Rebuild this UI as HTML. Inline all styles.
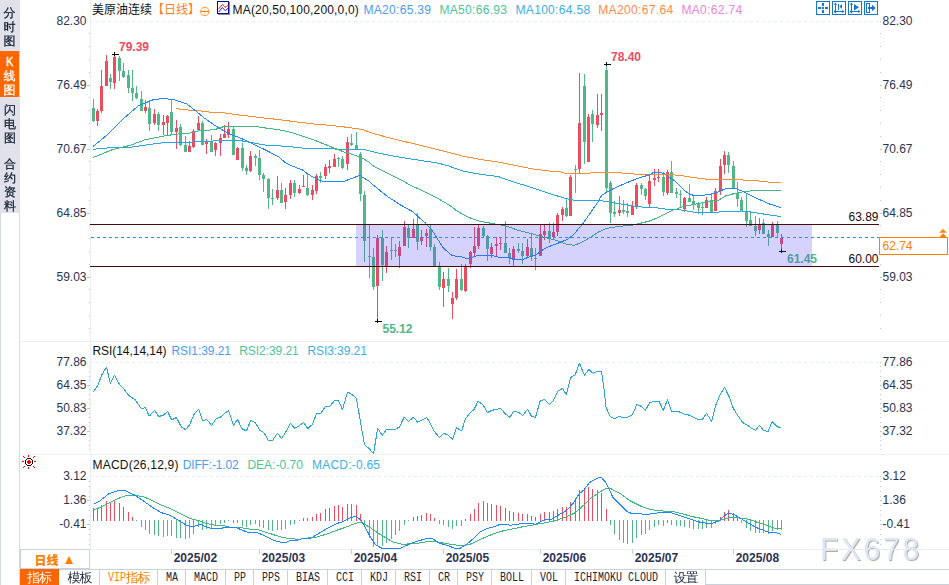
<!DOCTYPE html>
<html lang="zh"><head><meta charset="utf-8"><title>美原油连续 日线</title>
<style>
html,body{margin:0;padding:0;background:#fff;}
body{width:949px;height:585px;position:relative;overflow:hidden;font-family:"Liberation Sans","Noto Sans CJK SC",sans-serif;}
.chart{position:absolute;left:0;top:0;}
.chart text{font-family:"Liberation Sans","Noto Sans CJK SC",sans-serif;font-size:12px;}
.chart text.b{font-weight:bold;}
.chart text.h{font-size:12px;}
.chart text.cj{font-size:12px;}
.chart text.tl{font-family:"Liberation Mono",monospace;font-size:13px;}
.chart text.tc{font-family:"WenQuanYi Zen Hei","Noto Sans CJK SC",sans-serif;font-size:13px;letter-spacing:-1px;}
.side{position:absolute;left:0;top:0;width:20px;height:585px;box-sizing:border-box;border-left:1px solid #d3dbe3;border-right:1px solid #d3dbe3;background:linear-gradient(#dbe8f6 0,#dbe8f6 213px,#fff 213px);}
.side div{position:absolute;left:-1px;width:20px;text-align:center;font-family:"Liberation Serif","WenQuanYi Zen Hei",serif;font-size:12px;line-height:14px;color:#1a2436;background:#e0e1ea;-webkit-text-stroke:0.3px currentColor;}
.side .k{background:#ff6600;color:#fff;width:19px;}
.tabs{position:absolute;left:20px;top:569px;height:16px;width:929px;border-top:1px solid #c9d2dc;box-sizing:border-box;}
.tabs span{position:absolute;top:0;height:15px;box-sizing:border-box;border-right:1px solid #c9d2dc;font-family:"Liberation Mono","WenQuanYi Zen Hei",monospace;font-size:12px;line-height:15px;text-align:center;color:#111;white-space:nowrap;letter-spacing:-1.2px;}
.tabs span.cj{letter-spacing:0;}
.tabs span.on{background:#ff6600;color:#fff;top:-1px;height:16px;line-height:16px;border-right:none;}
.tabs span.vip{color:#ff7f00;}
.period{position:absolute;left:20px;top:549px;width:70px;height:20px;box-sizing:border-box;border:1px solid #c9d2dc;background:#fff;font-size:12px;font-weight:bold;color:#ff7f00;line-height:19px;}
.period b{position:absolute;left:13.5px;top:2px;font-family:"Liberation Sans","Noto Sans CJK SC",sans-serif;}
.period i{position:absolute;left:43.5px;top:5.5px;width:0;height:0;border-left:4.5px solid transparent;border-right:4.5px solid transparent;border-bottom:8.5px solid #ff7f00;}
.scroll{position:absolute;left:706px;top:569px;width:243px;height:16px;box-sizing:border-box;border:1px solid #c9d2dc;border-right:none;border-left:none;background:#fff;}
</style></head><body>
<svg class="chart" width="949" height="585" viewBox="0 0 949 585">
<g shape-rendering="crispEdges">
<rect x="90" y="0" width="1" height="549" fill="#ecf0f5"/>
<rect x="20" y="341" width="929" height="1" fill="#ecf0f5"/>
<rect x="20" y="454" width="929" height="1" fill="#ecf0f5"/>
<rect x="90" y="549" width="859" height="1" fill="#ecf0f5"/>
<line x1="90" y1="21.5" x2="880" y2="21.5" stroke="#e5ecf2" stroke-width="1" stroke-dasharray="3 3"/>
<line x1="90" y1="362.5" x2="880" y2="362.5" stroke="#e5ecf2" stroke-width="1" stroke-dasharray="3 3"/>
<line x1="90" y1="476.5" x2="880" y2="476.5" stroke="#e5ecf2" stroke-width="1" stroke-dasharray="3 3"/>
<rect x="880" y="21" width="1" height="1" fill="#bcc4ce"/>
<rect x="89" y="33" width="1" height="1" fill="#bcc4ce"/>
<rect x="880" y="33" width="1" height="1" fill="#bcc4ce"/>
<rect x="89" y="46" width="1" height="1" fill="#bcc4ce"/>
<rect x="880" y="46" width="1" height="1" fill="#bcc4ce"/>
<rect x="89" y="59" width="1" height="1" fill="#bcc4ce"/>
<rect x="880" y="59" width="1" height="1" fill="#bcc4ce"/>
<rect x="89" y="72" width="1" height="1" fill="#bcc4ce"/>
<rect x="880" y="72" width="1" height="1" fill="#bcc4ce"/>
<rect x="87" y="85" width="3" height="1" fill="#bcc4ce"/>
<rect x="880" y="85" width="2" height="1" fill="#bcc4ce"/>
<rect x="89" y="97" width="1" height="1" fill="#bcc4ce"/>
<rect x="880" y="97" width="1" height="1" fill="#bcc4ce"/>
<rect x="89" y="110" width="1" height="1" fill="#bcc4ce"/>
<rect x="880" y="110" width="1" height="1" fill="#bcc4ce"/>
<rect x="89" y="123" width="1" height="1" fill="#bcc4ce"/>
<rect x="880" y="123" width="1" height="1" fill="#bcc4ce"/>
<rect x="89" y="136" width="1" height="1" fill="#bcc4ce"/>
<rect x="880" y="136" width="1" height="1" fill="#bcc4ce"/>
<rect x="87" y="149" width="3" height="1" fill="#bcc4ce"/>
<rect x="880" y="149" width="2" height="1" fill="#bcc4ce"/>
<rect x="89" y="161" width="1" height="1" fill="#bcc4ce"/>
<rect x="880" y="161" width="1" height="1" fill="#bcc4ce"/>
<rect x="89" y="174" width="1" height="1" fill="#bcc4ce"/>
<rect x="880" y="174" width="1" height="1" fill="#bcc4ce"/>
<rect x="89" y="187" width="1" height="1" fill="#bcc4ce"/>
<rect x="880" y="187" width="1" height="1" fill="#bcc4ce"/>
<rect x="89" y="200" width="1" height="1" fill="#bcc4ce"/>
<rect x="880" y="200" width="1" height="1" fill="#bcc4ce"/>
<rect x="87" y="213" width="3" height="1" fill="#bcc4ce"/>
<rect x="880" y="213" width="2" height="1" fill="#bcc4ce"/>
<rect x="89" y="225" width="1" height="1" fill="#bcc4ce"/>
<rect x="880" y="225" width="1" height="1" fill="#bcc4ce"/>
<rect x="89" y="238" width="1" height="1" fill="#bcc4ce"/>
<rect x="880" y="238" width="1" height="1" fill="#bcc4ce"/>
<rect x="89" y="251" width="1" height="1" fill="#bcc4ce"/>
<rect x="880" y="251" width="1" height="1" fill="#bcc4ce"/>
<rect x="89" y="264" width="1" height="1" fill="#bcc4ce"/>
<rect x="880" y="264" width="1" height="1" fill="#bcc4ce"/>
<rect x="87" y="277" width="3" height="1" fill="#bcc4ce"/>
<rect x="880" y="277" width="2" height="1" fill="#bcc4ce"/>
<rect x="89" y="289" width="1" height="1" fill="#bcc4ce"/>
<rect x="880" y="289" width="1" height="1" fill="#bcc4ce"/>
<rect x="89" y="302" width="1" height="1" fill="#bcc4ce"/>
<rect x="880" y="302" width="1" height="1" fill="#bcc4ce"/>
<rect x="89" y="315" width="1" height="1" fill="#bcc4ce"/>
<rect x="880" y="315" width="1" height="1" fill="#bcc4ce"/>
<rect x="89" y="328" width="1" height="1" fill="#bcc4ce"/>
<rect x="880" y="328" width="1" height="1" fill="#bcc4ce"/>
<rect x="880" y="362" width="1" height="1" fill="#bcc4ce"/>
<rect x="89" y="366" width="1" height="1" fill="#bcc4ce"/>
<rect x="880" y="366" width="1" height="1" fill="#bcc4ce"/>
<rect x="89" y="371" width="1" height="1" fill="#bcc4ce"/>
<rect x="880" y="371" width="1" height="1" fill="#bcc4ce"/>
<rect x="89" y="376" width="1" height="1" fill="#bcc4ce"/>
<rect x="880" y="376" width="1" height="1" fill="#bcc4ce"/>
<rect x="89" y="380" width="1" height="1" fill="#bcc4ce"/>
<rect x="880" y="380" width="1" height="1" fill="#bcc4ce"/>
<rect x="87" y="385" width="3" height="1" fill="#bcc4ce"/>
<rect x="880" y="385" width="2" height="1" fill="#bcc4ce"/>
<rect x="89" y="389" width="1" height="1" fill="#bcc4ce"/>
<rect x="880" y="389" width="1" height="1" fill="#bcc4ce"/>
<rect x="89" y="394" width="1" height="1" fill="#bcc4ce"/>
<rect x="880" y="394" width="1" height="1" fill="#bcc4ce"/>
<rect x="89" y="399" width="1" height="1" fill="#bcc4ce"/>
<rect x="880" y="399" width="1" height="1" fill="#bcc4ce"/>
<rect x="89" y="403" width="1" height="1" fill="#bcc4ce"/>
<rect x="880" y="403" width="1" height="1" fill="#bcc4ce"/>
<rect x="87" y="408" width="3" height="1" fill="#bcc4ce"/>
<rect x="880" y="408" width="2" height="1" fill="#bcc4ce"/>
<rect x="89" y="413" width="1" height="1" fill="#bcc4ce"/>
<rect x="880" y="413" width="1" height="1" fill="#bcc4ce"/>
<rect x="89" y="417" width="1" height="1" fill="#bcc4ce"/>
<rect x="880" y="417" width="1" height="1" fill="#bcc4ce"/>
<rect x="89" y="422" width="1" height="1" fill="#bcc4ce"/>
<rect x="880" y="422" width="1" height="1" fill="#bcc4ce"/>
<rect x="89" y="426" width="1" height="1" fill="#bcc4ce"/>
<rect x="880" y="426" width="1" height="1" fill="#bcc4ce"/>
<rect x="87" y="431" width="3" height="1" fill="#bcc4ce"/>
<rect x="880" y="431" width="2" height="1" fill="#bcc4ce"/>
<rect x="89" y="436" width="1" height="1" fill="#bcc4ce"/>
<rect x="880" y="436" width="1" height="1" fill="#bcc4ce"/>
<rect x="89" y="440" width="1" height="1" fill="#bcc4ce"/>
<rect x="880" y="440" width="1" height="1" fill="#bcc4ce"/>
<rect x="89" y="445" width="1" height="1" fill="#bcc4ce"/>
<rect x="880" y="445" width="1" height="1" fill="#bcc4ce"/>
<rect x="89" y="449" width="1" height="1" fill="#bcc4ce"/>
<rect x="880" y="449" width="1" height="1" fill="#bcc4ce"/>
<rect x="880" y="476" width="1" height="1" fill="#bcc4ce"/>
<rect x="89" y="481" width="1" height="1" fill="#bcc4ce"/>
<rect x="880" y="481" width="1" height="1" fill="#bcc4ce"/>
<rect x="89" y="486" width="1" height="1" fill="#bcc4ce"/>
<rect x="880" y="486" width="1" height="1" fill="#bcc4ce"/>
<rect x="89" y="491" width="1" height="1" fill="#bcc4ce"/>
<rect x="880" y="491" width="1" height="1" fill="#bcc4ce"/>
<rect x="89" y="496" width="1" height="1" fill="#bcc4ce"/>
<rect x="880" y="496" width="1" height="1" fill="#bcc4ce"/>
<rect x="87" y="500" width="3" height="1" fill="#bcc4ce"/>
<rect x="880" y="500" width="2" height="1" fill="#bcc4ce"/>
<rect x="89" y="505" width="1" height="1" fill="#bcc4ce"/>
<rect x="880" y="505" width="1" height="1" fill="#bcc4ce"/>
<rect x="89" y="510" width="1" height="1" fill="#bcc4ce"/>
<rect x="880" y="510" width="1" height="1" fill="#bcc4ce"/>
<rect x="89" y="515" width="1" height="1" fill="#bcc4ce"/>
<rect x="880" y="515" width="1" height="1" fill="#bcc4ce"/>
<rect x="89" y="520" width="1" height="1" fill="#bcc4ce"/>
<rect x="880" y="520" width="1" height="1" fill="#bcc4ce"/>
<rect x="87" y="524" width="3" height="1" fill="#bcc4ce"/>
<rect x="880" y="524" width="2" height="1" fill="#bcc4ce"/>
<rect x="89" y="529" width="1" height="1" fill="#bcc4ce"/>
<rect x="880" y="529" width="1" height="1" fill="#bcc4ce"/>
<rect x="89" y="534" width="1" height="1" fill="#bcc4ce"/>
<rect x="880" y="534" width="1" height="1" fill="#bcc4ce"/>
<rect x="89" y="539" width="1" height="1" fill="#bcc4ce"/>
<rect x="880" y="539" width="1" height="1" fill="#bcc4ce"/>
<rect x="89" y="544" width="1" height="1" fill="#bcc4ce"/>
<rect x="880" y="544" width="1" height="1" fill="#bcc4ce"/>
</g>
<g shape-rendering="crispEdges">
<rect x="93" y="99" width="1" height="23" fill="#52b786"/>
<rect x="92" y="108" width="3" height="13" fill="#52b786"/>
<rect x="97" y="109" width="1" height="17" fill="#ec4c5f"/>
<rect x="96" y="111" width="3" height="10" fill="#ec4c5f"/>
<rect x="101" y="70" width="1" height="43" fill="#ec4c5f"/>
<rect x="100" y="86" width="3" height="25" fill="#ec4c5f"/>
<rect x="106" y="55" width="1" height="31" fill="#ec4c5f"/>
<rect x="105" y="61" width="3" height="25" fill="#ec4c5f"/>
<rect x="110" y="74" width="1" height="15" fill="#52b786"/>
<rect x="109" y="78" width="3" height="4" fill="#52b786"/>
<rect x="114" y="56" width="1" height="33" fill="#ec4c5f"/>
<rect x="113" y="57" width="3" height="26" fill="#ec4c5f"/>
<rect x="119" y="56" width="1" height="25" fill="#52b786"/>
<rect x="118" y="58" width="3" height="13" fill="#52b786"/>
<rect x="123" y="63" width="1" height="15" fill="#52b786"/>
<rect x="122" y="71" width="3" height="6" fill="#52b786"/>
<rect x="128" y="70" width="1" height="23" fill="#52b786"/>
<rect x="127" y="75" width="3" height="13" fill="#52b786"/>
<rect x="132" y="70" width="1" height="31" fill="#52b786"/>
<rect x="131" y="88" width="3" height="5" fill="#52b786"/>
<rect x="136" y="86" width="1" height="13" fill="#52b786"/>
<rect x="135" y="93" width="3" height="5" fill="#52b786"/>
<rect x="141" y="91" width="1" height="20" fill="#52b786"/>
<rect x="140" y="99" width="3" height="12" fill="#52b786"/>
<rect x="145" y="100" width="1" height="13" fill="#ec4c5f"/>
<rect x="144" y="107" width="3" height="4" fill="#ec4c5f"/>
<rect x="149" y="100" width="1" height="31" fill="#52b786"/>
<rect x="148" y="108" width="3" height="16" fill="#52b786"/>
<rect x="154" y="109" width="1" height="16" fill="#ec4c5f"/>
<rect x="153" y="114" width="3" height="9" fill="#ec4c5f"/>
<rect x="158" y="112" width="1" height="19" fill="#52b786"/>
<rect x="157" y="114" width="3" height="11" fill="#52b786"/>
<rect x="163" y="115" width="1" height="20" fill="#ec4c5f"/>
<rect x="162" y="122" width="3" height="3" fill="#ec4c5f"/>
<rect x="167" y="115" width="1" height="20" fill="#ec4c5f"/>
<rect x="166" y="116" width="3" height="7" fill="#ec4c5f"/>
<rect x="171" y="99" width="1" height="35" fill="#52b786"/>
<rect x="170" y="112" width="3" height="20" fill="#52b786"/>
<rect x="176" y="120" width="1" height="29" fill="#ec4c5f"/>
<rect x="175" y="128" width="3" height="4" fill="#ec4c5f"/>
<rect x="180" y="124" width="1" height="22" fill="#52b786"/>
<rect x="179" y="127" width="3" height="18" fill="#52b786"/>
<rect x="185" y="136" width="1" height="16" fill="#52b786"/>
<rect x="184" y="145" width="3" height="7" fill="#52b786"/>
<rect x="189" y="141" width="1" height="11" fill="#ec4c5f"/>
<rect x="188" y="146" width="3" height="6" fill="#ec4c5f"/>
<rect x="193" y="129" width="1" height="19" fill="#ec4c5f"/>
<rect x="192" y="131" width="3" height="16" fill="#ec4c5f"/>
<rect x="198" y="116" width="1" height="15" fill="#ec4c5f"/>
<rect x="197" y="123" width="3" height="7" fill="#ec4c5f"/>
<rect x="202" y="121" width="1" height="24" fill="#52b786"/>
<rect x="201" y="123" width="3" height="22" fill="#52b786"/>
<rect x="206" y="139" width="1" height="15" fill="#ec4c5f"/>
<rect x="205" y="142" width="3" height="2" fill="#ec4c5f"/>
<rect x="211" y="135" width="1" height="17" fill="#52b786"/>
<rect x="210" y="141" width="3" height="11" fill="#52b786"/>
<rect x="215" y="142" width="1" height="14" fill="#ec4c5f"/>
<rect x="214" y="143" width="3" height="7" fill="#ec4c5f"/>
<rect x="220" y="134" width="1" height="22" fill="#ec4c5f"/>
<rect x="219" y="138" width="3" height="5" fill="#ec4c5f"/>
<rect x="224" y="125" width="1" height="13" fill="#ec4c5f"/>
<rect x="223" y="134" width="3" height="4" fill="#ec4c5f"/>
<rect x="228" y="122" width="1" height="16" fill="#ec4c5f"/>
<rect x="227" y="129" width="3" height="6" fill="#ec4c5f"/>
<rect x="233" y="126" width="1" height="29" fill="#52b786"/>
<rect x="232" y="129" width="3" height="26" fill="#52b786"/>
<rect x="237" y="147" width="1" height="13" fill="#ec4c5f"/>
<rect x="236" y="148" width="3" height="12" fill="#ec4c5f"/>
<rect x="242" y="143" width="1" height="28" fill="#52b786"/>
<rect x="241" y="148" width="3" height="20" fill="#52b786"/>
<rect x="246" y="165" width="1" height="10" fill="#52b786"/>
<rect x="245" y="168" width="3" height="3" fill="#52b786"/>
<rect x="250" y="151" width="1" height="21" fill="#ec4c5f"/>
<rect x="249" y="156" width="3" height="15" fill="#ec4c5f"/>
<rect x="255" y="154" width="1" height="12" fill="#52b786"/>
<rect x="254" y="156" width="3" height="2" fill="#52b786"/>
<rect x="259" y="150" width="1" height="30" fill="#52b786"/>
<rect x="258" y="158" width="3" height="17" fill="#52b786"/>
<rect x="263" y="173" width="1" height="19" fill="#52b786"/>
<rect x="262" y="175" width="3" height="4" fill="#52b786"/>
<rect x="268" y="178" width="1" height="31" fill="#52b786"/>
<rect x="267" y="179" width="3" height="19" fill="#52b786"/>
<rect x="272" y="189" width="1" height="16" fill="#52b786"/>
<rect x="271" y="198" width="3" height="1" fill="#52b786"/>
<rect x="277" y="176" width="1" height="24" fill="#ec4c5f"/>
<rect x="276" y="190" width="3" height="8" fill="#ec4c5f"/>
<rect x="281" y="183" width="1" height="20" fill="#52b786"/>
<rect x="280" y="190" width="3" height="13" fill="#52b786"/>
<rect x="285" y="188" width="1" height="21" fill="#ec4c5f"/>
<rect x="284" y="195" width="3" height="7" fill="#ec4c5f"/>
<rect x="290" y="180" width="1" height="19" fill="#ec4c5f"/>
<rect x="289" y="183" width="3" height="12" fill="#ec4c5f"/>
<rect x="294" y="180" width="1" height="17" fill="#52b786"/>
<rect x="293" y="183" width="3" height="10" fill="#52b786"/>
<rect x="299" y="185" width="1" height="9" fill="#ec4c5f"/>
<rect x="298" y="189" width="3" height="4" fill="#ec4c5f"/>
<rect x="303" y="175" width="1" height="12" fill="#ec4c5f"/>
<rect x="302" y="186" width="3" height="1" fill="#ec4c5f"/>
<rect x="307" y="173" width="1" height="23" fill="#52b786"/>
<rect x="306" y="188" width="3" height="7" fill="#52b786"/>
<rect x="312" y="185" width="1" height="15" fill="#ec4c5f"/>
<rect x="311" y="190" width="3" height="5" fill="#ec4c5f"/>
<rect x="316" y="174" width="1" height="20" fill="#ec4c5f"/>
<rect x="315" y="176" width="3" height="15" fill="#ec4c5f"/>
<rect x="320" y="172" width="1" height="11" fill="#52b786"/>
<rect x="319" y="176" width="3" height="2" fill="#52b786"/>
<rect x="325" y="164" width="1" height="15" fill="#ec4c5f"/>
<rect x="324" y="167" width="3" height="9" fill="#ec4c5f"/>
<rect x="329" y="160" width="1" height="13" fill="#ec4c5f"/>
<rect x="328" y="166" width="3" height="2" fill="#ec4c5f"/>
<rect x="334" y="154" width="1" height="13" fill="#ec4c5f"/>
<rect x="333" y="159" width="3" height="8" fill="#ec4c5f"/>
<rect x="338" y="157" width="1" height="10" fill="#52b786"/>
<rect x="337" y="158" width="3" height="1" fill="#52b786"/>
<rect x="342" y="156" width="1" height="13" fill="#52b786"/>
<rect x="341" y="159" width="3" height="9" fill="#52b786"/>
<rect x="347" y="137" width="1" height="33" fill="#ec4c5f"/>
<rect x="346" y="142" width="3" height="22" fill="#ec4c5f"/>
<rect x="351" y="134" width="1" height="12" fill="#52b786"/>
<rect x="350" y="143" width="3" height="2" fill="#52b786"/>
<rect x="356" y="132" width="1" height="17" fill="#52b786"/>
<rect x="355" y="145" width="3" height="4" fill="#52b786"/>
<rect x="360" y="152" width="1" height="49" fill="#52b786"/>
<rect x="359" y="154" width="3" height="40" fill="#52b786"/>
<rect x="364" y="191" width="1" height="71" fill="#52b786"/>
<rect x="363" y="195" width="3" height="46" fill="#52b786"/>
<rect x="369" y="225" width="1" height="53" fill="#52b786"/>
<rect x="368" y="256" width="3" height="1" fill="#52b786"/>
<rect x="373" y="248" width="1" height="42" fill="#52b786"/>
<rect x="372" y="257" width="3" height="30" fill="#52b786"/>
<rect x="377" y="235" width="1" height="84" fill="#ec4c5f"/>
<rect x="376" y="238" width="3" height="48" fill="#ec4c5f"/>
<rect x="382" y="230" width="1" height="51" fill="#52b786"/>
<rect x="381" y="238" width="3" height="27" fill="#52b786"/>
<rect x="386" y="246" width="1" height="27" fill="#ec4c5f"/>
<rect x="385" y="252" width="3" height="14" fill="#ec4c5f"/>
<rect x="391" y="238" width="1" height="22" fill="#52b786"/>
<rect x="390" y="250" width="3" height="1" fill="#52b786"/>
<rect x="395" y="244" width="1" height="13" fill="#52b786"/>
<rect x="394" y="250" width="3" height="1" fill="#52b786"/>
<rect x="399" y="241" width="1" height="27" fill="#ec4c5f"/>
<rect x="398" y="247" width="3" height="9" fill="#ec4c5f"/>
<rect x="404" y="221" width="1" height="25" fill="#ec4c5f"/>
<rect x="403" y="227" width="3" height="19" fill="#ec4c5f"/>
<rect x="408" y="225" width="1" height="23" fill="#52b786"/>
<rect x="407" y="228" width="3" height="10" fill="#52b786"/>
<rect x="413" y="219" width="1" height="19" fill="#ec4c5f"/>
<rect x="412" y="229" width="3" height="9" fill="#ec4c5f"/>
<rect x="417" y="213" width="1" height="37" fill="#52b786"/>
<rect x="416" y="225" width="3" height="17" fill="#52b786"/>
<rect x="421" y="230" width="1" height="15" fill="#ec4c5f"/>
<rect x="420" y="237" width="3" height="4" fill="#ec4c5f"/>
<rect x="426" y="229" width="1" height="18" fill="#ec4c5f"/>
<rect x="425" y="233" width="3" height="3" fill="#ec4c5f"/>
<rect x="430" y="225" width="1" height="26" fill="#52b786"/>
<rect x="429" y="229" width="3" height="18" fill="#52b786"/>
<rect x="434" y="244" width="1" height="22" fill="#52b786"/>
<rect x="433" y="247" width="3" height="19" fill="#52b786"/>
<rect x="439" y="262" width="1" height="28" fill="#52b786"/>
<rect x="438" y="267" width="3" height="20" fill="#52b786"/>
<rect x="443" y="272" width="1" height="35" fill="#ec4c5f"/>
<rect x="442" y="279" width="3" height="9" fill="#ec4c5f"/>
<rect x="448" y="268" width="1" height="24" fill="#52b786"/>
<rect x="447" y="279" width="3" height="7" fill="#52b786"/>
<rect x="452" y="292" width="1" height="27" fill="#ec4c5f"/>
<rect x="451" y="298" width="3" height="6" fill="#ec4c5f"/>
<rect x="456" y="269" width="1" height="31" fill="#ec4c5f"/>
<rect x="455" y="279" width="3" height="19" fill="#ec4c5f"/>
<rect x="461" y="264" width="1" height="27" fill="#52b786"/>
<rect x="460" y="279" width="3" height="11" fill="#52b786"/>
<rect x="465" y="264" width="1" height="28" fill="#ec4c5f"/>
<rect x="464" y="266" width="3" height="25" fill="#ec4c5f"/>
<rect x="470" y="251" width="1" height="17" fill="#ec4c5f"/>
<rect x="469" y="252" width="3" height="12" fill="#ec4c5f"/>
<rect x="474" y="227" width="1" height="29" fill="#ec4c5f"/>
<rect x="473" y="246" width="3" height="7" fill="#ec4c5f"/>
<rect x="478" y="225" width="1" height="24" fill="#ec4c5f"/>
<rect x="477" y="228" width="3" height="18" fill="#ec4c5f"/>
<rect x="483" y="226" width="1" height="11" fill="#52b786"/>
<rect x="482" y="228" width="3" height="8" fill="#52b786"/>
<rect x="487" y="235" width="1" height="26" fill="#52b786"/>
<rect x="486" y="236" width="3" height="13" fill="#52b786"/>
<rect x="491" y="243" width="1" height="15" fill="#ec4c5f"/>
<rect x="490" y="247" width="3" height="7" fill="#ec4c5f"/>
<rect x="496" y="237" width="1" height="19" fill="#ec4c5f"/>
<rect x="495" y="244" width="3" height="2" fill="#ec4c5f"/>
<rect x="500" y="238" width="1" height="12" fill="#ec4c5f"/>
<rect x="499" y="243" width="3" height="1" fill="#ec4c5f"/>
<rect x="505" y="221" width="1" height="32" fill="#52b786"/>
<rect x="504" y="243" width="3" height="10" fill="#52b786"/>
<rect x="509" y="248" width="1" height="16" fill="#52b786"/>
<rect x="508" y="253" width="3" height="5" fill="#52b786"/>
<rect x="513" y="246" width="1" height="20" fill="#ec4c5f"/>
<rect x="512" y="249" width="3" height="10" fill="#ec4c5f"/>
<rect x="518" y="243" width="1" height="10" fill="#52b786"/>
<rect x="517" y="249" width="3" height="2" fill="#52b786"/>
<rect x="522" y="243" width="1" height="21" fill="#52b786"/>
<rect x="521" y="251" width="3" height="5" fill="#52b786"/>
<rect x="527" y="239" width="1" height="18" fill="#ec4c5f"/>
<rect x="526" y="247" width="3" height="9" fill="#ec4c5f"/>
<rect x="531" y="233" width="1" height="28" fill="#52b786"/>
<rect x="530" y="248" width="3" height="9" fill="#52b786"/>
<rect x="535" y="248" width="1" height="22" fill="#52b786"/>
<rect x="534" y="258" width="3" height="1" fill="#52b786"/>
<rect x="540" y="225" width="1" height="31" fill="#ec4c5f"/>
<rect x="539" y="234" width="3" height="22" fill="#ec4c5f"/>
<rect x="544" y="225" width="1" height="15" fill="#ec4c5f"/>
<rect x="543" y="231" width="3" height="4" fill="#ec4c5f"/>
<rect x="549" y="223" width="1" height="20" fill="#52b786"/>
<rect x="548" y="231" width="3" height="7" fill="#52b786"/>
<rect x="553" y="223" width="1" height="16" fill="#ec4c5f"/>
<rect x="552" y="232" width="3" height="5" fill="#ec4c5f"/>
<rect x="557" y="213" width="1" height="23" fill="#ec4c5f"/>
<rect x="556" y="215" width="3" height="17" fill="#ec4c5f"/>
<rect x="562" y="207" width="1" height="14" fill="#ec4c5f"/>
<rect x="561" y="209" width="3" height="6" fill="#ec4c5f"/>
<rect x="566" y="199" width="1" height="18" fill="#52b786"/>
<rect x="565" y="208" width="3" height="8" fill="#52b786"/>
<rect x="570" y="175" width="1" height="41" fill="#ec4c5f"/>
<rect x="569" y="177" width="3" height="39" fill="#ec4c5f"/>
<rect x="575" y="165" width="1" height="28" fill="#52b786"/>
<rect x="574" y="169" width="3" height="1" fill="#52b786"/>
<rect x="579" y="73" width="1" height="100" fill="#ec4c5f"/>
<rect x="578" y="123" width="3" height="46" fill="#ec4c5f"/>
<rect x="584" y="74" width="1" height="90" fill="#52b786"/>
<rect x="583" y="86" width="3" height="56" fill="#52b786"/>
<rect x="588" y="114" width="1" height="48" fill="#ec4c5f"/>
<rect x="587" y="117" width="3" height="45" fill="#ec4c5f"/>
<rect x="592" y="110" width="1" height="32" fill="#52b786"/>
<rect x="591" y="114" width="3" height="10" fill="#52b786"/>
<rect x="597" y="94" width="1" height="34" fill="#ec4c5f"/>
<rect x="596" y="115" width="3" height="10" fill="#ec4c5f"/>
<rect x="601" y="94" width="1" height="37" fill="#ec4c5f"/>
<rect x="600" y="113" width="3" height="2" fill="#ec4c5f"/>
<rect x="606" y="66" width="1" height="126" fill="#52b786"/>
<rect x="605" y="70" width="3" height="118" fill="#52b786"/>
<rect x="610" y="181" width="1" height="42" fill="#52b786"/>
<rect x="609" y="183" width="3" height="30" fill="#52b786"/>
<rect x="614" y="201" width="1" height="16" fill="#52b786"/>
<rect x="613" y="212" width="3" height="2" fill="#52b786"/>
<rect x="619" y="196" width="1" height="20" fill="#ec4c5f"/>
<rect x="618" y="210" width="3" height="3" fill="#ec4c5f"/>
<rect x="623" y="200" width="1" height="14" fill="#52b786"/>
<rect x="622" y="210" width="3" height="2" fill="#52b786"/>
<rect x="627" y="203" width="1" height="14" fill="#52b786"/>
<rect x="626" y="211" width="3" height="2" fill="#52b786"/>
<rect x="632" y="201" width="1" height="14" fill="#ec4c5f"/>
<rect x="631" y="206" width="3" height="9" fill="#ec4c5f"/>
<rect x="636" y="183" width="1" height="26" fill="#ec4c5f"/>
<rect x="635" y="185" width="3" height="21" fill="#ec4c5f"/>
<rect x="641" y="183" width="1" height="12" fill="#52b786"/>
<rect x="640" y="185" width="3" height="4" fill="#52b786"/>
<rect x="645" y="188" width="1" height="12" fill="#52b786"/>
<rect x="644" y="189" width="3" height="7" fill="#52b786"/>
<rect x="649" y="175" width="1" height="32" fill="#ec4c5f"/>
<rect x="648" y="181" width="3" height="23" fill="#ec4c5f"/>
<rect x="654" y="169" width="1" height="17" fill="#ec4c5f"/>
<rect x="653" y="178" width="3" height="2" fill="#ec4c5f"/>
<rect x="658" y="169" width="1" height="13" fill="#ec4c5f"/>
<rect x="657" y="177" width="3" height="1" fill="#ec4c5f"/>
<rect x="663" y="172" width="1" height="24" fill="#52b786"/>
<rect x="662" y="177" width="3" height="15" fill="#52b786"/>
<rect x="667" y="170" width="1" height="25" fill="#ec4c5f"/>
<rect x="666" y="172" width="3" height="21" fill="#ec4c5f"/>
<rect x="671" y="161" width="1" height="32" fill="#52b786"/>
<rect x="670" y="172" width="3" height="21" fill="#52b786"/>
<rect x="676" y="188" width="1" height="10" fill="#52b786"/>
<rect x="675" y="192" width="3" height="2" fill="#52b786"/>
<rect x="680" y="190" width="1" height="17" fill="#52b786"/>
<rect x="679" y="194" width="3" height="1" fill="#52b786"/>
<rect x="684" y="197" width="1" height="15" fill="#ec4c5f"/>
<rect x="683" y="198" width="3" height="11" fill="#ec4c5f"/>
<rect x="689" y="184" width="1" height="18" fill="#52b786"/>
<rect x="688" y="198" width="3" height="4" fill="#52b786"/>
<rect x="693" y="196" width="1" height="14" fill="#52b786"/>
<rect x="692" y="201" width="3" height="3" fill="#52b786"/>
<rect x="698" y="202" width="1" height="12" fill="#52b786"/>
<rect x="697" y="204" width="3" height="4" fill="#52b786"/>
<rect x="702" y="203" width="1" height="12" fill="#52b786"/>
<rect x="701" y="207" width="3" height="1" fill="#52b786"/>
<rect x="706" y="197" width="1" height="11" fill="#ec4c5f"/>
<rect x="705" y="200" width="3" height="8" fill="#ec4c5f"/>
<rect x="711" y="193" width="1" height="19" fill="#52b786"/>
<rect x="710" y="200" width="3" height="12" fill="#52b786"/>
<rect x="715" y="188" width="1" height="23" fill="#ec4c5f"/>
<rect x="714" y="191" width="3" height="20" fill="#ec4c5f"/>
<rect x="720" y="159" width="1" height="36" fill="#ec4c5f"/>
<rect x="719" y="166" width="3" height="25" fill="#ec4c5f"/>
<rect x="724" y="151" width="1" height="23" fill="#ec4c5f"/>
<rect x="723" y="155" width="3" height="10" fill="#ec4c5f"/>
<rect x="728" y="152" width="1" height="21" fill="#52b786"/>
<rect x="727" y="155" width="3" height="10" fill="#52b786"/>
<rect x="733" y="161" width="1" height="27" fill="#52b786"/>
<rect x="732" y="166" width="3" height="22" fill="#52b786"/>
<rect x="737" y="182" width="1" height="25" fill="#52b786"/>
<rect x="736" y="193" width="3" height="6" fill="#52b786"/>
<rect x="741" y="197" width="1" height="14" fill="#52b786"/>
<rect x="740" y="200" width="3" height="11" fill="#52b786"/>
<rect x="746" y="193" width="1" height="34" fill="#52b786"/>
<rect x="745" y="211" width="3" height="10" fill="#52b786"/>
<rect x="750" y="211" width="1" height="15" fill="#52b786"/>
<rect x="749" y="220" width="3" height="6" fill="#52b786"/>
<rect x="755" y="216" width="1" height="20" fill="#52b786"/>
<rect x="754" y="226" width="3" height="5" fill="#52b786"/>
<rect x="759" y="218" width="1" height="16" fill="#ec4c5f"/>
<rect x="758" y="225" width="3" height="5" fill="#ec4c5f"/>
<rect x="763" y="219" width="1" height="15" fill="#52b786"/>
<rect x="762" y="223" width="3" height="11" fill="#52b786"/>
<rect x="768" y="230" width="1" height="16" fill="#52b786"/>
<rect x="767" y="234" width="3" height="3" fill="#52b786"/>
<rect x="772" y="222" width="1" height="15" fill="#ec4c5f"/>
<rect x="771" y="225" width="3" height="12" fill="#ec4c5f"/>
<rect x="777" y="221" width="1" height="16" fill="#52b786"/>
<rect x="776" y="225" width="3" height="8" fill="#52b786"/>
<rect x="781" y="234" width="1" height="16" fill="#ec4c5f"/>
<rect x="780" y="238" width="3" height="6" fill="#ec4c5f"/>
</g>
<g shape-rendering="crispEdges">
<rect x="93" y="508" width="1" height="13" fill="#ec4c5f"/>
<rect x="97" y="509" width="1" height="12" fill="#ec4c5f"/>
<rect x="101" y="505" width="1" height="16" fill="#ec4c5f"/>
<rect x="106" y="501" width="1" height="20" fill="#ec4c5f"/>
<rect x="110" y="503" width="1" height="18" fill="#ec4c5f"/>
<rect x="114" y="500" width="1" height="21" fill="#ec4c5f"/>
<rect x="119" y="503" width="1" height="18" fill="#ec4c5f"/>
<rect x="123" y="507" width="1" height="14" fill="#ec4c5f"/>
<rect x="128" y="512" width="1" height="9" fill="#ec4c5f"/>
<rect x="132" y="517" width="1" height="4" fill="#ec4c5f"/>
<rect x="136" y="520" width="1" height="1" fill="#52b786"/>
<rect x="141" y="520" width="1" height="7" fill="#52b786"/>
<rect x="145" y="520" width="1" height="10" fill="#52b786"/>
<rect x="149" y="520" width="1" height="14" fill="#52b786"/>
<rect x="154" y="520" width="1" height="15" fill="#52b786"/>
<rect x="158" y="520" width="1" height="16" fill="#52b786"/>
<rect x="163" y="520" width="1" height="17" fill="#52b786"/>
<rect x="167" y="520" width="1" height="16" fill="#52b786"/>
<rect x="171" y="520" width="1" height="16" fill="#52b786"/>
<rect x="176" y="520" width="1" height="18" fill="#52b786"/>
<rect x="180" y="520" width="1" height="18" fill="#52b786"/>
<rect x="185" y="520" width="1" height="19" fill="#52b786"/>
<rect x="189" y="520" width="1" height="18" fill="#52b786"/>
<rect x="193" y="520" width="1" height="14" fill="#52b786"/>
<rect x="198" y="520" width="1" height="7" fill="#52b786"/>
<rect x="202" y="520" width="1" height="10" fill="#52b786"/>
<rect x="206" y="520" width="1" height="9" fill="#52b786"/>
<rect x="211" y="520" width="1" height="8" fill="#52b786"/>
<rect x="215" y="520" width="1" height="6" fill="#52b786"/>
<rect x="220" y="520" width="1" height="4" fill="#52b786"/>
<rect x="224" y="520" width="1" height="3" fill="#52b786"/>
<rect x="228" y="520" width="1" height="1" fill="#52b786"/>
<rect x="233" y="520" width="1" height="3" fill="#52b786"/>
<rect x="237" y="520" width="1" height="3" fill="#52b786"/>
<rect x="242" y="520" width="1" height="6" fill="#52b786"/>
<rect x="246" y="520" width="1" height="7" fill="#52b786"/>
<rect x="250" y="520" width="1" height="5" fill="#52b786"/>
<rect x="255" y="520" width="1" height="4" fill="#52b786"/>
<rect x="259" y="520" width="1" height="7" fill="#52b786"/>
<rect x="263" y="520" width="1" height="8" fill="#52b786"/>
<rect x="268" y="520" width="1" height="10" fill="#52b786"/>
<rect x="272" y="520" width="1" height="11" fill="#52b786"/>
<rect x="277" y="520" width="1" height="10" fill="#52b786"/>
<rect x="281" y="520" width="1" height="10" fill="#52b786"/>
<rect x="285" y="520" width="1" height="9" fill="#52b786"/>
<rect x="290" y="520" width="1" height="5" fill="#52b786"/>
<rect x="294" y="520" width="1" height="4" fill="#52b786"/>
<rect x="299" y="520" width="1" height="1" fill="#52b786"/>
<rect x="303" y="518" width="1" height="3" fill="#ec4c5f"/>
<rect x="307" y="518" width="1" height="3" fill="#ec4c5f"/>
<rect x="312" y="517" width="1" height="4" fill="#ec4c5f"/>
<rect x="316" y="514" width="1" height="7" fill="#ec4c5f"/>
<rect x="320" y="513" width="1" height="8" fill="#ec4c5f"/>
<rect x="325" y="509" width="1" height="12" fill="#ec4c5f"/>
<rect x="329" y="508" width="1" height="13" fill="#ec4c5f"/>
<rect x="334" y="506" width="1" height="15" fill="#ec4c5f"/>
<rect x="338" y="505" width="1" height="16" fill="#ec4c5f"/>
<rect x="342" y="507" width="1" height="14" fill="#ec4c5f"/>
<rect x="347" y="504" width="1" height="17" fill="#ec4c5f"/>
<rect x="351" y="504" width="1" height="17" fill="#ec4c5f"/>
<rect x="356" y="505" width="1" height="16" fill="#ec4c5f"/>
<rect x="360" y="514" width="1" height="7" fill="#ec4c5f"/>
<rect x="364" y="520" width="1" height="7" fill="#52b786"/>
<rect x="369" y="520" width="1" height="18" fill="#52b786"/>
<rect x="373" y="520" width="1" height="27" fill="#52b786"/>
<rect x="377" y="520" width="1" height="25" fill="#52b786"/>
<rect x="382" y="520" width="1" height="26" fill="#52b786"/>
<rect x="386" y="520" width="1" height="23" fill="#52b786"/>
<rect x="391" y="520" width="1" height="19" fill="#52b786"/>
<rect x="395" y="520" width="1" height="15" fill="#52b786"/>
<rect x="399" y="520" width="1" height="11" fill="#52b786"/>
<rect x="404" y="520" width="1" height="5" fill="#52b786"/>
<rect x="408" y="520" width="1" height="1" fill="#52b786"/>
<rect x="413" y="517" width="1" height="4" fill="#ec4c5f"/>
<rect x="417" y="516" width="1" height="5" fill="#ec4c5f"/>
<rect x="421" y="515" width="1" height="6" fill="#ec4c5f"/>
<rect x="426" y="513" width="1" height="8" fill="#ec4c5f"/>
<rect x="430" y="514" width="1" height="7" fill="#ec4c5f"/>
<rect x="434" y="518" width="1" height="3" fill="#ec4c5f"/>
<rect x="439" y="520" width="1" height="4" fill="#52b786"/>
<rect x="443" y="520" width="1" height="5" fill="#52b786"/>
<rect x="448" y="520" width="1" height="7" fill="#52b786"/>
<rect x="452" y="520" width="1" height="9" fill="#52b786"/>
<rect x="456" y="520" width="1" height="6" fill="#52b786"/>
<rect x="461" y="520" width="1" height="6" fill="#52b786"/>
<rect x="465" y="519" width="1" height="2" fill="#ec4c5f"/>
<rect x="470" y="514" width="1" height="7" fill="#ec4c5f"/>
<rect x="474" y="509" width="1" height="12" fill="#ec4c5f"/>
<rect x="478" y="503" width="1" height="18" fill="#ec4c5f"/>
<rect x="483" y="501" width="1" height="20" fill="#ec4c5f"/>
<rect x="487" y="503" width="1" height="18" fill="#ec4c5f"/>
<rect x="491" y="504" width="1" height="17" fill="#ec4c5f"/>
<rect x="496" y="505" width="1" height="16" fill="#ec4c5f"/>
<rect x="500" y="506" width="1" height="15" fill="#ec4c5f"/>
<rect x="505" y="508" width="1" height="13" fill="#ec4c5f"/>
<rect x="509" y="511" width="1" height="10" fill="#ec4c5f"/>
<rect x="513" y="512" width="1" height="9" fill="#ec4c5f"/>
<rect x="518" y="513" width="1" height="8" fill="#ec4c5f"/>
<rect x="522" y="514" width="1" height="7" fill="#ec4c5f"/>
<rect x="527" y="514" width="1" height="7" fill="#ec4c5f"/>
<rect x="531" y="516" width="1" height="5" fill="#ec4c5f"/>
<rect x="535" y="517" width="1" height="4" fill="#ec4c5f"/>
<rect x="540" y="514" width="1" height="7" fill="#ec4c5f"/>
<rect x="544" y="512" width="1" height="9" fill="#ec4c5f"/>
<rect x="549" y="512" width="1" height="9" fill="#ec4c5f"/>
<rect x="553" y="511" width="1" height="10" fill="#ec4c5f"/>
<rect x="557" y="509" width="1" height="12" fill="#ec4c5f"/>
<rect x="562" y="507" width="1" height="14" fill="#ec4c5f"/>
<rect x="566" y="507" width="1" height="14" fill="#ec4c5f"/>
<rect x="570" y="502" width="1" height="19" fill="#ec4c5f"/>
<rect x="575" y="498" width="1" height="23" fill="#ec4c5f"/>
<rect x="579" y="490" width="1" height="31" fill="#ec4c5f"/>
<rect x="584" y="490" width="1" height="31" fill="#ec4c5f"/>
<rect x="588" y="487" width="1" height="34" fill="#ec4c5f"/>
<rect x="592" y="489" width="1" height="32" fill="#ec4c5f"/>
<rect x="597" y="490" width="1" height="31" fill="#ec4c5f"/>
<rect x="601" y="493" width="1" height="28" fill="#ec4c5f"/>
<rect x="606" y="509" width="1" height="12" fill="#ec4c5f"/>
<rect x="610" y="520" width="1" height="5" fill="#52b786"/>
<rect x="614" y="520" width="1" height="14" fill="#52b786"/>
<rect x="619" y="520" width="1" height="20" fill="#52b786"/>
<rect x="623" y="520" width="1" height="23" fill="#52b786"/>
<rect x="627" y="520" width="1" height="24" fill="#52b786"/>
<rect x="632" y="520" width="1" height="23" fill="#52b786"/>
<rect x="636" y="520" width="1" height="18" fill="#52b786"/>
<rect x="641" y="520" width="1" height="15" fill="#52b786"/>
<rect x="645" y="520" width="1" height="14" fill="#52b786"/>
<rect x="649" y="520" width="1" height="10" fill="#52b786"/>
<rect x="654" y="520" width="1" height="7" fill="#52b786"/>
<rect x="658" y="520" width="1" height="5" fill="#52b786"/>
<rect x="663" y="520" width="1" height="6" fill="#52b786"/>
<rect x="667" y="520" width="1" height="3" fill="#52b786"/>
<rect x="671" y="520" width="1" height="5" fill="#52b786"/>
<rect x="676" y="520" width="1" height="6" fill="#52b786"/>
<rect x="680" y="520" width="1" height="6" fill="#52b786"/>
<rect x="684" y="520" width="1" height="7" fill="#52b786"/>
<rect x="689" y="520" width="1" height="8" fill="#52b786"/>
<rect x="693" y="520" width="1" height="9" fill="#52b786"/>
<rect x="698" y="520" width="1" height="9" fill="#52b786"/>
<rect x="702" y="520" width="1" height="9" fill="#52b786"/>
<rect x="706" y="520" width="1" height="8" fill="#52b786"/>
<rect x="711" y="520" width="1" height="8" fill="#52b786"/>
<rect x="715" y="520" width="1" height="4" fill="#52b786"/>
<rect x="720" y="517" width="1" height="4" fill="#ec4c5f"/>
<rect x="724" y="512" width="1" height="9" fill="#ec4c5f"/>
<rect x="728" y="510" width="1" height="11" fill="#ec4c5f"/>
<rect x="733" y="513" width="1" height="8" fill="#ec4c5f"/>
<rect x="737" y="517" width="1" height="4" fill="#ec4c5f"/>
<rect x="741" y="520" width="1" height="3" fill="#52b786"/>
<rect x="746" y="520" width="1" height="8" fill="#52b786"/>
<rect x="750" y="520" width="1" height="11" fill="#52b786"/>
<rect x="755" y="520" width="1" height="13" fill="#52b786"/>
<rect x="759" y="520" width="1" height="13" fill="#52b786"/>
<rect x="763" y="520" width="1" height="13" fill="#52b786"/>
<rect x="768" y="520" width="1" height="14" fill="#52b786"/>
<rect x="772" y="520" width="1" height="11" fill="#52b786"/>
<rect x="777" y="520" width="1" height="10" fill="#52b786"/>
<rect x="781" y="520" width="1" height="10" fill="#52b786"/>
</g>
<polyline points="175.9,108.5 178.5,108.6 179.5,109.5 187.5,109.6 188.5,110.5 200.5,110.6 201.5,111.5 208.5,111.6 209.5,112.4 222.0,112.6 240.9,115.2 259.9,117.5 278.9,119.6 297.8,122.1 316.8,124.3 330.6,125.4 349.6,127.6 362.3,129.5 374.9,134.0 393.9,139.0 412.8,143.5 431.8,148.1 446.9,151.9 463.9,156.4 480.8,159.5 497.7,162.0 514.7,165.4 531.6,168.8 548.5,171.0 560.0,171.8 565.1,173.5 589.1,173.5 591.7,172.2 620.8,172.4 623.3,173.5 633.4,173.8 637.2,174.7 668.0,174.5 680.6,175.4 693.3,177.6 709.7,179.6 738.8,179.8 756.5,180.7 771.7,182.4 780.5,183.0" fill="none" stroke="#ff8c32" stroke-width="1.0" stroke-linejoin="bevel" shape-rendering="crispEdges"/>
<polyline points="93.0,149.3 113.3,147.4 132.3,147.0 151.2,144.3 165.1,142.4 189.2,142.1 207.5,141.5 218.2,140.5 239.7,140.5 253.6,143.0 266.2,145.3 278.9,145.8 291.5,146.8 304.2,148.3 323.0,148.4 337.0,149.1 362.3,149.1 374.9,152.3 393.9,156.1 412.8,159.3 425.5,161.2 438.0,163.1 446.9,165.4 463.9,171.3 480.8,174.4 497.7,176.4 514.7,182.3 531.6,187.4 548.5,193.3 565.5,198.4 573.9,200.2 599.3,200.3 605.6,201.5 618.2,203.5 630.9,205.7 643.5,207.2 656.2,207.8 668.8,209.5 680.6,209.9 693.3,212.1 718.6,212.1 722.4,211.2 742.4,211.0 758.8,213.3 771.5,215.2 781.0,216.5" fill="none" stroke="#29a5e0" stroke-width="1.0" stroke-linejoin="bevel" shape-rendering="crispEdges"/>
<polyline points="93.0,157.5 113.3,149.3 129.7,145.5 144.9,139.8 163.9,136.0 176.5,134.1 189.2,133.1 198.0,131.0 207.5,130.3 215.6,129.3 223.2,126.8 233.3,126.3 243.5,126.3 253.6,126.2 266.2,128.1 278.9,129.7 291.5,132.6 304.2,136.7 316.8,141.1 330.6,146.6 343.3,151.7 355.9,155.5 362.3,158.0 368.6,161.8 373.6,166.2 387.5,173.2 400.2,179.5 410.0,185.0 425.2,192.0 437.8,198.3 450.5,205.9 456.8,210.9 467.6,217.0 480.3,221.4 492.9,223.6 505.6,225.9 518.2,230.3 530.9,233.5 543.5,237.2 556.2,240.4 566.6,244.3 574.1,245.3 581.7,242.4 590.6,237.3 598.2,232.2 605.8,228.5 615.9,226.8 626.0,225.7 633.6,225.0 639.9,223.4 650.0,220.9 657.6,217.7 665.0,213.9 672.6,210.1 675.6,209.5 683.2,206.4 693.3,204.5 705.9,202.0 718.6,200.1 726.2,195.6 733.8,193.7 743.9,191.6 756.5,190.3 779.3,190.3 781.0,191.0" fill="none" stroke="#3dba7d" stroke-width="1.0" stroke-linejoin="bevel" shape-rendering="crispEdges"/>
<polyline points="93.0,146.5 104.4,137.3 125.9,116.4 138.6,105.7 152.5,100.0 163.5,98.4 175.3,100.0 186.6,103.8 195.5,110.7 203.0,117.1 215.6,125.9 228.3,133.5 240.9,138.2 253.6,144.3 266.2,150.3 278.9,157.0 285.2,162.6 291.5,165.8 302.9,170.2 308.0,174.0 316.8,179.3 323.0,181.4 344.6,181.1 359.7,175.4 368.6,180.8 373.3,185.0 387.3,196.4 399.9,204.6 412.5,211.6 425.2,222.9 431.5,229.3 437.8,239.4 442.9,247.6 451.7,255.2 456.8,256.4 461.3,256.6 466.4,258.7 477.8,255.6 491.7,255.6 499.3,257.2 509.4,257.5 513.2,259.4 523.3,259.4 530.9,256.2 535.9,255.0 543.5,249.3 550.1,246.2 560.2,242.4 566.6,239.8 572.9,235.4 583.0,223.4 590.6,212.6 598.8,200.6 601.8,195.0 605.6,193.0 611.9,189.3 624.6,183.6 637.2,178.5 649.8,174.7 653.6,172.2 660.0,172.2 665.0,174.1 671.3,178.5 674.3,180.5 680.6,186.8 687.0,192.5 693.3,195.4 703.4,195.3 712.3,193.7 718.6,191.8 726.2,188.4 735.0,188.3 743.9,191.8 756.5,198.2 769.2,203.9 781.0,207.6" fill="none" stroke="#1e88fa" stroke-width="1.0" stroke-linejoin="bevel" shape-rendering="crispEdges"/>
<polyline points="93.5,391.6 97.7,385.4 101.9,374.7 106.5,367.1 110.4,383.5 114.6,375.2 118.9,383.5 123.9,389.1 128.7,395.5 135.0,399.6 141.7,409.1 145.1,407.2 149.3,416.2 154.4,410.3 158.7,416.5 163.2,415.3 167.6,411.5 171.7,419.9 176.4,417.5 181.2,426.7 185.4,429.7 189.6,424.7 194.2,414.0 198.8,409.4 202.7,420.9 206.6,419.2 211.5,425.5 215.7,419.2 220.5,417.0 228.6,410.3 233.5,425.5 237.5,419.3 241.8,428.7 246.5,430.9 250.7,420.2 255.3,422.7 259.6,430.0 263.8,432.4 268.5,440.5 272.6,440.5 277.3,433.2 281.6,438.5 285.8,432.0 290.4,423.2 294.6,428.3 299.0,425.8 303.6,422.4 307.8,428.7 312.4,424.4 316.6,413.4 321.0,413.1 325.6,406.3 329.8,406.3 334.9,400.2 338.3,400.7 342.5,409.5 347.6,391.9 351.8,394.3 356.4,398.2 360.3,421.0 364.5,444.7 369.6,449.0 373.5,453.7 377.7,428.3 382.3,435.4 386.5,429.2 395.5,429.2 399.4,427.0 404.1,417.3 408.7,421.4 413.4,417.3 417.7,422.2 422.3,419.9 426.8,417.6 429.9,422.7 434.1,431.2 439.5,437.6 443.9,433.2 448.5,435.4 452.7,439.2 456.5,427.5 461.5,431.2 465.4,419.0 469.7,413.4 474.2,409.2 478.1,401.1 483.2,405.0 487.4,412.6 491.7,410.4 495.9,409.5 500.6,408.3 505.2,413.9 509.8,417.3 513.7,411.2 518.8,412.6 522.7,415.4 527.6,409.2 531.5,416.3 535.4,417.6 540.1,401.1 544.3,399.4 549.4,404.6 553.3,400.4 557.9,391.1 562.6,388.4 566.3,394.5 570.6,377.5 575.1,375.0 579.4,363.1 584.4,375.3 588.7,369.4 593.1,373.3 597.3,371.4 601.5,371.4 603.6,385.5 606.1,407.5 610.3,416.8 614.6,418.5 619.2,416.5 623.9,417.6 628.1,417.1 632.4,414.6 636.9,404.4 641.2,406.3 645.4,410.4 649.6,402.7 654.0,401.2 658.9,401.2 663.3,410.4 667.6,399.5 671.6,411.4 678.1,411.4 684.0,413.9 690.1,415.4 697.7,419.3 702.4,419.3 706.5,413.4 711.6,421.4 715.5,405.8 720.0,394.8 724.5,387.2 729.0,396.5 733.3,408.3 737.5,415.1 742.6,422.4 746.8,424.9 751.0,427.8 755.6,430.3 759.5,425.3 763.4,430.3 768.0,431.5 772.2,421.5 777.3,426.6 780.7,427.8" fill="none" stroke="#29a5e0" stroke-width="1.0" stroke-linejoin="bevel" shape-rendering="crispEdges"/>
<polyline points="93.5,510.0 101.9,506.6 110.4,502.4 118.9,498.2 127.3,495.3 135.8,495.3 144.3,497.0 152.7,500.7 161.2,505.0 169.7,508.3 178.1,512.6 186.6,516.8 191.7,519.0 200.1,521.0 206.9,523.6 215.4,525.3 222.2,525.3 228.9,527.0 237.4,527.0 248.5,529.0 257.0,529.5 268.9,533.2 282.4,537.5 290.9,538.8 299.3,539.2 307.8,538.0 316.3,537.1 328.1,533.7 336.6,530.3 345.1,527.5 353.5,524.1 361.1,521.9 370.5,527.8 378.9,533.7 387.4,538.8 393.5,542.2 401.9,544.2 410.4,543.9 418.9,543.0 429.0,541.4 435.8,541.7 444.3,543.0 452.7,544.7 461.2,545.6 469.7,544.4 478.1,540.5 486.6,536.6 495.1,533.2 503.5,530.7 513.7,528.7 523.8,526.5 534.0,524.8 545.2,522.7 555.3,520.7 565.5,517.3 573.9,513.4 582.4,506.3 590.9,498.2 599.3,492.3 606.1,488.4 610.3,488.4 621.4,494.3 629.8,500.7 640.0,505.8 650.1,509.5 660.3,510.9 672.2,511.4 682.3,513.9 693.5,516.8 701.9,518.5 710.4,520.5 718.9,520.5 725.6,518.5 730.7,517.6 739.2,518.0 749.3,519.3 756.1,521.9 764.6,524.4 773.0,527.8 781.0,529.0" fill="none" stroke="#3dba7d" stroke-width="1.0" stroke-linejoin="bevel" shape-rendering="crispEdges"/>
<polyline points="93.5,504.4 100.2,500.7 108.7,493.9 118.9,490.2 123.9,490.2 134.1,494.8 144.3,501.6 152.7,507.5 161.2,512.6 169.7,515.1 178.1,520.2 186.6,525.3 190.8,526.6 195.1,526.1 200.1,524.4 206.9,527.0 212.0,528.7 220.5,528.7 225.5,527.0 234.0,527.0 240.8,529.5 246.9,532.0 257.0,532.4 265.5,536.3 273.9,540.5 282.4,542.7 285.8,542.7 290.9,540.2 297.6,540.2 302.7,538.5 311.2,538.0 319.7,532.9 328.1,527.8 336.6,523.6 343.4,521.5 351.8,517.3 356.1,516.5 361.1,520.2 365.4,527.8 370.5,537.1 375.5,544.7 382.3,548.5 400.2,548.5 410.4,543.6 418.9,540.8 427.3,538.3 431.6,538.3 439.2,543.0 447.6,545.6 454.4,548.1 460.3,548.1 466.3,544.7 473.0,538.8 479.8,532.0 486.6,528.7 493.4,527.0 500.1,524.4 506.9,524.4 510.3,525.3 517.1,524.1 525.5,523.6 535.7,524.1 540.1,521.9 545.2,519.3 551.9,519.0 560.4,513.9 567.2,510.0 573.9,502.4 579.0,494.0 584.1,489.7 589.2,482.9 594.3,479.6 601.0,477.0 606.1,482.9 612.9,497.3 619.7,504.1 627.3,511.7 632.4,513.8 640.0,513.8 645.9,514.6 653.5,513.4 660.3,512.6 670.5,512.6 678.9,515.4 687.4,518.2 693.5,520.2 701.9,522.7 711.2,523.6 718.9,521.0 723.9,516.0 728.5,513.1 734.1,514.6 740.9,518.5 747.7,522.7 756.1,527.5 762.9,530.0 768.8,532.5 776.4,532.9 781.0,534.2" fill="none" stroke="#1e88fa" stroke-width="1.0" stroke-linejoin="bevel" shape-rendering="crispEdges"/>
<g shape-rendering="crispEdges" fill="#000"><rect x="112" y="54" width="7" height="1"/><rect x="114" y="52" width="1" height="4"/></g>
<g shape-rendering="crispEdges" fill="#000"><rect x="604" y="64" width="7" height="1"/><rect x="606" y="62" width="1" height="4"/></g>
<g shape-rendering="crispEdges" fill="#000"><rect x="375" y="321" width="7" height="1"/><rect x="377" y="319" width="1" height="4"/></g>
<g shape-rendering="crispEdges" fill="#000"><rect x="779" y="251" width="7" height="1"/><rect x="781" y="249" width="1" height="4"/></g>
<text x="119" y="51" class="b" fill="#ec4c5f">79.39</text>
<text x="611" y="61" class="b" fill="#ec4c5f">78.40</text>
<text x="382.5" y="333" class="b" fill="#52b786">55.12</text>
<text x="787" y="263" class="b" fill="#52b786">61.45</text>
<rect x="356" y="225" width="456" height="41" fill="#5046fa" fill-opacity="0.24" shape-rendering="crispEdges"/>
<g shape-rendering="crispEdges" fill="#450a0c"><rect x="90" y="224" width="789" height="1"/><rect x="90" y="266" width="789" height="1"/></g>
<line x1="91" y1="237.5" x2="880" y2="237.5" stroke="#1e90ff" stroke-width="1" stroke-dasharray="3 3" shape-rendering="crispEdges"/>
<text x="878.5" y="221" text-anchor="end" class="n" fill="#24060a">63.89</text>
<text x="878.5" y="263" text-anchor="end" class="n" fill="#24060a">60.00</text>
<g shape-rendering="crispEdges"><rect x="879.5" y="237.5" width="68" height="17" fill="#fff" stroke="#ff7f00" stroke-width="1"/></g>
<text x="882.5" y="250" class="n" fill="#ff7f00">62.74</text>
<path d="M939.2,237.3 L943,233.3 L946.8,237.3 Z M939.2,232.8 L943,229 L946.8,232.8 Z" fill="#ff7f00"/>
<text x="86.5" y="25.3" text-anchor="end" class="n" fill="#2b3354">82.30</text>
<text x="882.5" y="25.3" class="n" fill="#2b3354">82.30</text>
<text x="86.5" y="89.1" text-anchor="end" class="n" fill="#2b3354">76.49</text>
<text x="882.5" y="89.1" class="n" fill="#2b3354">76.49</text>
<text x="86.5" y="153.0" text-anchor="end" class="n" fill="#2b3354">70.67</text>
<text x="882.5" y="153.0" class="n" fill="#2b3354">70.67</text>
<text x="86.5" y="216.9" text-anchor="end" class="n" fill="#2b3354">64.85</text>
<text x="882.5" y="216.9" class="n" fill="#2b3354">64.85</text>
<text x="86.5" y="280.7" text-anchor="end" class="n" fill="#2b3354">59.03</text>
<text x="882.5" y="280.7" class="n" fill="#2b3354">59.03</text>
<text x="86.5" y="365.9" text-anchor="end" class="n" fill="#2b3354">77.86</text>
<text x="882.5" y="365.9" class="n" fill="#2b3354">77.86</text>
<text x="86.5" y="389.1" text-anchor="end" class="n" fill="#2b3354">64.35</text>
<text x="882.5" y="389.1" class="n" fill="#2b3354">64.35</text>
<text x="86.5" y="412.2" text-anchor="end" class="n" fill="#2b3354">50.83</text>
<text x="882.5" y="412.2" class="n" fill="#2b3354">50.83</text>
<text x="86.5" y="435.2" text-anchor="end" class="n" fill="#2b3354">37.32</text>
<text x="882.5" y="435.2" class="n" fill="#2b3354">37.32</text>
<text x="86.5" y="480.3" text-anchor="end" class="n" fill="#2b3354">3.12</text>
<text x="882.5" y="480.3" class="n" fill="#2b3354">3.12</text>
<text x="86.5" y="504.3" text-anchor="end" class="n" fill="#2b3354">1.36</text>
<text x="882.5" y="504.3" class="n" fill="#2b3354">1.36</text>
<text x="86.5" y="528.3" text-anchor="end" class="n" fill="#2b3354">-0.41</text>
<text x="882.5" y="528.3" class="n" fill="#2b3354">-0.41</text>
<g shape-rendering="crispEdges">
<rect x="171" y="549" width="1" height="5" fill="#c9d2dc"/>
<rect x="259" y="549" width="1" height="5" fill="#c9d2dc"/>
<rect x="351" y="549" width="1" height="5" fill="#c9d2dc"/>
<rect x="443" y="549" width="1" height="5" fill="#c9d2dc"/>
<rect x="540" y="549" width="1" height="5" fill="#c9d2dc"/>
<rect x="632" y="549" width="1" height="5" fill="#c9d2dc"/>
<rect x="733" y="549" width="1" height="5" fill="#c9d2dc"/>
</g>
<text x="173.7" y="562" class="b" fill="#2b3354">2025/02</text>
<text x="261.7" y="562" class="b" fill="#2b3354">2025/03</text>
<text x="353.7" y="562" class="b" fill="#2b3354">2025/04</text>
<text x="445.7" y="562" class="b" fill="#2b3354">2025/05</text>
<text x="542.7" y="562" class="b" fill="#2b3354">2025/06</text>
<text x="634.7" y="562" class="b" fill="#2b3354">2025/07</text>
<text x="735.7" y="562" class="b" fill="#2b3354">2025/08</text>
<text x="92" y="14" class="cj" fill="#111">美原油连续<tspan fill="#ff7f24">【日线】</tspan></text>
<g fill="none" stroke="#ff8000"><circle cx="204.8" cy="11.5" r="4.1" stroke-width="0.9" stroke-opacity="0.85"/><path d="M200.6,11.5 H209" stroke-width="1"/><path d="M204.8,7.4 V15.6" stroke-width="0.8" stroke-opacity="0.45"/></g>
<g shape-rendering="crispEdges"><rect x="218" y="14" width="12" height="1" fill="#8c8c8c"/><rect x="229" y="2" width="1" height="13" fill="#8c8c8c"/><rect x="217.5" y="1.5" width="11" height="12" fill="#fff" stroke="#0a0a90" stroke-width="1"/></g>
<polyline points="218.6,9 222.4,4.4 225.4,7.6 227.4,5.4 228.5,5.4" fill="none" stroke="#ff0000" stroke-width="0.9"/>
<polyline points="218.6,12 222.4,7.6 225.4,10.8 227.4,8.6 228.5,8.5" fill="none" stroke="#0000ff" stroke-width="0.9"/>
<text x="232.6" y="14" class="h" fill="#111" textLength="126.2" lengthAdjust="spacing">MA(20,50,100,200,0,0)</text>
<text x="363.4" y="14" class="h" fill="#4a9cf5" textLength="67.6" lengthAdjust="spacing">MA20:65.39</text>
<text x="439.4" y="14" class="h" fill="#4cc596" textLength="67.6" lengthAdjust="spacing">MA50:66.93</text>
<text x="515.5" y="14" class="h" fill="#3ab0e8" textLength="74.6" lengthAdjust="spacing">MA100:64.58</text>
<text x="598.2" y="14" class="h" fill="#ff8a4a" textLength="75" lengthAdjust="spacing">MA200:67.64</text>
<text x="681.4" y="14" class="h" fill="#ee82d8" textLength="60.8" lengthAdjust="spacing">MA0:62.74</text>
<g shape-rendering="crispEdges"><rect x="816.5" y="1.5" width="13" height="13" fill="#fff" stroke="#1676d0" stroke-width="1"/></g>
<g shape-rendering="crispEdges"><rect x="832.5" y="1.5" width="13" height="13" fill="#fff" stroke="#1676d0" stroke-width="1"/></g>
<g shape-rendering="crispEdges"><rect x="848.5" y="1.5" width="13" height="13" fill="#fff" stroke="#1676d0" stroke-width="1"/></g>
<g shape-rendering="crispEdges"><rect x="864.5" y="1.5" width="13" height="13" fill="#fff" stroke="#1676d0" stroke-width="1"/></g>
<g fill="#1676d0" shape-rendering="crispEdges"><rect x="822" y="7" width="2" height="2"/><rect x="822" y="3" width="2" height="3"/><rect x="822" y="10" width="2" height="3"/><rect x="818" y="7" width="3" height="2"/><rect x="825" y="7" width="3" height="2"/></g>
<g stroke="#1676d0" fill="#1676d0" stroke-width="1"><path d="M835.5,3.5 V13 M834,11.5 H843.5" fill="none"/><path d="M835.5,2.6 l-1.7,2.2 h3.4 z M844.4,11.5 l-2.2,-1.7 v3.4 z M835.5,13.6 l-1.2,-1.4 h2.4 z M833.6,11.5 l1.4,-1.2 v2.4 z" stroke="none"/><rect x="838" y="4" width="1" height="6" stroke="none"/><path d="M839.4,6.5 L842,4 V9 z" stroke="none"/></g>
<g stroke="#1676d0" fill="#1676d0" stroke-width="1"><path d="M851.5,3.5 V13 M850,11.5 H859.5" fill="none"/><path d="M851.5,2.6 l-1.7,2.2 h3.4 z M860.4,11.5 l-2.2,-1.7 v3.4 z M851.5,13.6 l-1.2,-1.4 h2.4 z M849.6,11.5 l1.4,-1.2 v2.4 z" stroke="none"/><path d="M854,4 V10.5 L859,7.25 z" stroke="none"/></g>
<g stroke="#1676d0" fill="none" stroke-width="1"><rect x="866.5" y="3.5" width="3" height="9" shape-rendering="crispEdges"/><path d="M868,8 H873" stroke-width="2"/><path d="M872,4.8 l3.7,3.2 l-3.7,3.2 z" fill="#1676d0" stroke="none"/></g>
<text x="92.5" y="354.8" class="h" fill="#111" textLength="74" lengthAdjust="spacing">RSI(14,14,14)</text>
<text x="171.5" y="354.8" class="h" fill="#4a9cf5" textLength="59.5" lengthAdjust="spacing">RSI1:39.21</text>
<text x="239.2" y="354.8" class="h" fill="#4cc596" textLength="59.5" lengthAdjust="spacing">RSI2:39.21</text>
<text x="307.4" y="354.8" class="h" fill="#3ab0e8" textLength="59.5" lengthAdjust="spacing">RSI3:39.21</text>
<text x="92.5" y="468.5" class="h" fill="#111" textLength="86" lengthAdjust="spacing">MACD(26,12,9)</text>
<text x="182.7" y="468.5" class="h" fill="#4a9cf5" textLength="56" lengthAdjust="spacing">DIFF:-1.02</text>
<text x="247.4" y="468.5" class="h" fill="#4cc596" textLength="55.5" lengthAdjust="spacing">DEA:-0.70</text>
<text x="312" y="468.5" class="h" fill="#3ab0e8" textLength="68" lengthAdjust="spacing">MACD:-0.65</text>
<g shape-rendering="crispEdges"><g fill="#000"><rect x="27" y="458" width="4" height="1"/><rect x="26" y="459" width="1" height="1"/><rect x="31" y="459" width="1" height="1"/><rect x="25" y="460" width="1" height="4"/><rect x="32" y="460" width="1" height="4"/><rect x="26" y="464" width="1" height="1"/><rect x="31" y="464" width="1" height="1"/><rect x="27" y="465" width="4" height="1"/></g><g fill="#ff0000"><rect x="28" y="460" width="2" height="1"/><rect x="27" y="461" width="4" height="2"/><rect x="28" y="463" width="2" height="1"/><rect x="28" y="455" width="1" height="2"/><rect x="28" y="467" width="1" height="2"/><rect x="22" y="461" width="2" height="1"/><rect x="34" y="461" width="2" height="1"/><rect x="23" y="456" width="1" height="1"/><rect x="24" y="457" width="1" height="1"/><rect x="34" y="456" width="1" height="1"/><rect x="33" y="457" width="1" height="1"/><rect x="23" y="467" width="1" height="1"/><rect x="24" y="466" width="1" height="1"/><rect x="33" y="466" width="1" height="1"/><rect x="34" y="467" width="1" height="1"/></g></g>
<defs><filter id="ws" x="-5%" y="-10%" width="115%" height="130%"><feDropShadow dx="1" dy="1" stdDeviation="0.55" flood-color="#8c6e55" flood-opacity="0.6"/></filter></defs>
<text x="819.9" y="559.7" transform="translate(0,559.7) scale(1,1.045) translate(0,-559.7)" style="font-size:30px;letter-spacing:2.7px" filter="url(#ws)" fill="#dbe7f5">FX678</text>
<rect x="815" y="549" width="110" height="1" fill="#e3e9f0" fill-opacity="0.8" shape-rendering="crispEdges"/>
</svg>
<div class="side">
<div style="top:0;height:50px;padding-top:5.5px;padding-right:1px;box-sizing:border-box">分<br>时<br>图</div>
<div class="k" style="top:51px;height:46px;padding-top:18px;box-sizing:border-box">线<br>图</div>
<div class="k" style="top:56px;height:14px;font-family:'Liberation Mono',monospace">K</div>
<div style="top:98px;height:51px;padding-top:5px;box-sizing:border-box">闪<br>电<br>图</div>
<div style="top:150px;height:63px;padding-top:7px;box-sizing:border-box">合<br>约<br>资<br>料</div>
</div>
<div class="period"><b>日线</b><i></i></div>
<div class="tabs">
<span class="on" style="left:0px;width:39px"></span><span class="" style="left:40px;width:40px"></span><span class="vip" style="left:80px;width:58px"></span><span class="" style="left:138px;width:28px"></span><span class="" style="left:166px;width:40px"></span><span class="" style="left:206px;width:28px"></span><span class="" style="left:234px;width:34px"></span><span class="" style="left:268px;width:40px"></span><span class="" style="left:308px;width:34px"></span><span class="" style="left:342px;width:34px"></span><span class="" style="left:376px;width:34px"></span><span class="" style="left:410px;width:28px"></span><span class="" style="left:438px;width:34px"></span><span class="" style="left:472px;width:40px"></span><span class="" style="left:512px;width:34px"></span><span class="" style="left:546px;width:100px"></span><span class="" style="left:646px;width:40px"></span>
</div>
<div class="scroll"></div>
<svg class="chart" width="949" height="585" viewBox="0 0 949 585"><text x="27.0" y="581.5" class="tc" fill="#fff">指标</text>
<text x="67.5" y="581.5" class="tc" fill="#1a2438">模板</text>
<text x="108.0" y="581" class="tl" fill="#ff7f00" textLength="18" lengthAdjust="spacingAndGlyphs">VIP</text>
<text x="125.5" y="581.5" class="tc" fill="#ff7f00">指标</text>
<text x="166.0" y="581" class="tl" fill="#1a2438" textLength="12" lengthAdjust="spacingAndGlyphs">MA</text>
<text x="194.0" y="581" class="tl" fill="#1a2438" textLength="24" lengthAdjust="spacingAndGlyphs">MACD</text>
<text x="234.0" y="581" class="tl" fill="#1a2438" textLength="12" lengthAdjust="spacingAndGlyphs">PP</text>
<text x="262.0" y="581" class="tl" fill="#1a2438" textLength="18" lengthAdjust="spacingAndGlyphs">PPS</text>
<text x="296.0" y="581" class="tl" fill="#1a2438" textLength="24" lengthAdjust="spacingAndGlyphs">BIAS</text>
<text x="336.0" y="581" class="tl" fill="#1a2438" textLength="18" lengthAdjust="spacingAndGlyphs">CCI</text>
<text x="370.0" y="581" class="tl" fill="#1a2438" textLength="18" lengthAdjust="spacingAndGlyphs">KDJ</text>
<text x="404.0" y="581" class="tl" fill="#1a2438" textLength="18" lengthAdjust="spacingAndGlyphs">RSI</text>
<text x="438.0" y="581" class="tl" fill="#1a2438" textLength="12" lengthAdjust="spacingAndGlyphs">CR</text>
<text x="466.0" y="581" class="tl" fill="#1a2438" textLength="18" lengthAdjust="spacingAndGlyphs">PSY</text>
<text x="500.0" y="581" class="tl" fill="#1a2438" textLength="24" lengthAdjust="spacingAndGlyphs">BOLL</text>
<text x="540.0" y="581" class="tl" fill="#1a2438" textLength="18" lengthAdjust="spacingAndGlyphs">VOL</text>
<text x="574.0" y="581" class="tl" fill="#1a2438" textLength="84" lengthAdjust="spacingAndGlyphs">ICHIMOKU CLOUD</text>
<text x="673.5" y="581.5" class="tc" fill="#1a2438">设置</text></svg>
</body></html>
